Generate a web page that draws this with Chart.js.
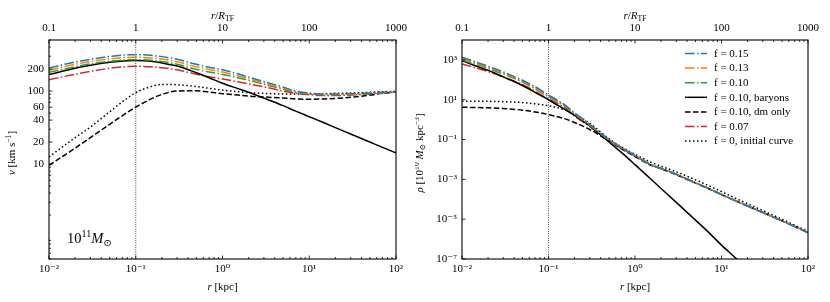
<!DOCTYPE html>
<html>
<head>
<meta charset="utf-8">
<script src="https://cdn.jsdelivr.net/npm/chart.js@4.4.1/dist/chart.umd.min.js"></script>
<style>
  body { margin: 0; background: #fff; }
  #wrap { position: relative; width: 830px; height: 302px; }
  canvas { position: absolute; top: 0; }
</style>
</head>
<body>
<div id="wrap">
  <canvas id="velChart" width="415" height="302" style="left:0"></canvas>
  <canvas id="rhoChart" width="415" height="302" style="left:415px"></canvas>
</div>
<script>
// radius grid (kpc), shared by every curve
const radii = [0.01, 0.02, 0.03, 0.05, 0.08, 0.1, 0.15, 0.2, 0.3, 0.5, 0.7, 1, 1.5, 2, 3, 5, 7, 10, 15, 20, 30, 50, 70, 100];

const labels = ['f = 0.15', 'f = 0.13', 'f = 0.10', 'f = 0.10, baryons', 'f = 0.10, dm only', 'f = 0.07', 'f = 0, initial curve'];

// rotation curves v [km/s]
const vF015 = [207, 250, 272, 298, 314, 315, 308, 296, 272, 232, 212, 195, 172, 155, 135, 113, 100, 94, 91, 91, 92, 94, 96, 97];
const vF013 = [193, 232, 253, 276, 289, 290, 284, 274, 252, 215, 197, 182, 162, 147, 129, 109, 98, 93, 90, 90, 91, 93, 95, 97];
const vF010 = [180, 215, 235, 256, 268, 269, 263, 253, 233, 198, 182, 169, 152, 140, 124, 106, 96, 92, 89, 89, 90, 92, 95, 97];
const vBaryons = [168, 205, 225, 248, 260, 262, 256, 242, 220, 178, 152, 128, 108, 96, 80, 63, 53, 44.5, 36.5, 31.5, 25.8, 20, 16.9, 14.2];
const vDmOnly = [9.6, 16.5, 23, 35, 51, 60, 78, 90, 100, 101, 97, 92, 88, 85, 83, 80, 78, 77, 78, 79, 82, 88, 93, 97];
const vF007 = [143, 170, 186, 205, 216, 218, 215, 208, 195, 170, 157, 146, 134, 125, 114, 100, 93, 89, 87, 87, 88, 91, 94, 96];
const vInitial = [12.5, 23, 32, 52, 80, 95, 115, 123, 122, 115, 109, 103, 98, 95, 93, 91, 91, 91, 92, 93, 94, 96, 98, 99];

// density profiles rho [1e10 Msun / kpc^3]
const rhoF015 = [1350, 480, 250, 95, 32, 17, 6.0, 2.2, 0.58, 0.1, 0.04, 0.016, 0.0058, 0.0036, 0.0018, 6.8e-4, 3.6e-4, 1.7e-4, 7.8e-5, 4.6e-5, 2.15e-5, 8.2e-6, 4.3e-6, 2.1e-6];
const rhoF013 = [1150, 420, 220, 85, 28, 15.5, 5.6, 2.05, 0.55, 0.098, 0.039, 0.0157, 0.0057, 0.0036, 0.0018, 6.8e-4, 3.6e-4, 1.7e-4, 7.8e-5, 4.6e-5, 2.15e-5, 8.2e-6, 4.3e-6, 2.1e-6];
const rhoF010 = [1000, 370, 195, 76, 25, 14, 5.2, 1.9, 0.52, 0.095, 0.038, 0.0155, 0.0056, 0.0035, 0.0018, 6.8e-4, 3.6e-4, 1.7e-4, 7.8e-5, 4.6e-5, 2.15e-5, 8.2e-6, 4.3e-6, 2.1e-6];
const rhoBaryons = [900, 300, 140, 52, 17, 10, 3.5, 1.65, 0.48, 0.075, 0.022, 0.0055, 1.1e-3, 3.5e-4, 7e-5, 9e-6, 2.3e-6, 5e-7, 1e-7, 3e-8, 6e-9, 8e-10, 2e-10, 5e-11];
const rhoDmOnly = [4.2, 3.9, 3.6, 3.0, 2.2, 1.8, 1.15, 0.72, 0.32, 0.085, 0.034, 0.014, 0.0053, 0.0034, 0.0017, 6.5e-4, 3.5e-4, 1.7e-4, 7.8e-5, 4.6e-5, 2.15e-5, 8.2e-6, 4.3e-6, 2.1e-6];
const rhoF007 = [630, 260, 140, 58, 19, 11, 4.3, 1.5, 0.45, 0.085, 0.035, 0.0148, 0.0055, 0.0035, 0.0018, 6.8e-4, 3.6e-4, 1.75e-4, 8e-5, 4.8e-5, 2.2e-5, 8.5e-6, 4.4e-6, 2.2e-6];
const rhoInitial = [8.5, 8.3, 8.0, 7.2, 5.8, 5.0, 3.2, 1.9, 0.65, 0.11, 0.042, 0.018, 0.0075, 0.0046, 0.0024, 9.5e-4, 5e-4, 2.4e-4, 1.05e-4, 6e-5, 2.7e-5, 1e-5, 5e-6, 2.4e-6];

// tick labels
const vTickLabels = [10, 20, 40, 60, 100, 200];
const rhoTickExps = [-7, -5, -3, -1, 1, 3];
const topTickLabels = ['0.1', '1', '10', '100', '1000'];
const markR = 0.1; // R_TF in kpc

const SERIF = '"Liberation Serif", "DejaVu Serif", serif';
const FS = 11;
const colors = ['#1f77b4', '#ff7f0e', '#2ca02c', '#000', '#000', '#d62728', '#000'];
const dashes = [[9.6, 2.4, 1.5, 2.4], [9.6, 2.4, 1.5, 2.4], [9.6, 2.4, 1.5, 2.4], [], [5.55, 2.4], [9.6, 2.4, 1.5, 2.4], [1.5, 2.5]];

const SUP = { '-': '⁻', '0': '⁰', '1': '¹', '2': '²', '3': '³', '4': '⁴', '5': '⁵', '6': '⁶', '7': '⁷', '8': '⁸', '9': '⁹' };
const pow10Label = e => '10' + String(e).split('').map(c => SUP[c]).join('');
const isDecade = v => Math.abs(Math.log10(v) - Math.round(Math.log10(v))) < 1e-6;

function logTicks(min, max, subs) {
  const out = [];
  for (let e = Math.floor(Math.log10(min)); e <= Math.ceil(Math.log10(max)); e++) {
    subs.forEach(s => {
      const v = s * Math.pow(10, e);
      if (v >= min * 0.999 && v <= max * 1.001) out.push(v);
    });
  }
  return out;
}

function makeDatasets(cols) {
  return cols.map((vals, i) => ({
    label: labels[i],
    data: radii.map((r, j) => ({ x: r, y: vals[j] })),
    borderColor: colors[i],
    borderDash: dashes[i],
    borderWidth: 1.5,
    pointRadius: 0,
    fill: false,
    cubicInterpolationMode: 'monotone'
  }));
}

function logAxis(pos, min, max, tickVals, labelFn, size, pad) {
  return {
    type: 'logarithmic',
    position: pos,
    min: min,
    max: max,
    grid: { display: false, drawTicks: false },
    border: { display: false },
    afterBuildTicks: s => { s.ticks = tickVals.map(v => ({ value: v })); },
    afterFit: s => {
      if (pos === 'left') s.width = size; else s.height = size;
    },
    ticks: {
      autoSkip: false, maxRotation: 0, minRotation: 0, padding: pad, color: '#000',
      font: { family: SERIF, size: FS },
      callback: v => labelFn(v)
    }
  };
}

// text with super/subscripts; parts = [[text, kind]]
function rich(ctx, parts, x, y, size, align) {
  const fontFor = k => (k === 'it' ? 'italic ' : '') + ((k === 'sup' || k === 'sub') ? size * 0.7 : size) + 'px ' + SERIF;
  let w = 0;
  parts.forEach(([t, k]) => { ctx.font = fontFor(k); w += ctx.measureText(t).width; });
  let cx = align === 'left' ? x : x - w / 2;
  ctx.textAlign = 'left';
  ctx.textBaseline = 'alphabetic';
  ctx.fillStyle = '#000';
  parts.forEach(([t, k]) => {
    ctx.font = fontFor(k);
    const dy = k === 'sup' ? -size * 0.4 : (k === 'sub' ? size * 0.22 : 0);
    ctx.fillText(t, cx, y + dy);
    cx += ctx.measureText(t).width;
  });
}

function drawTickMarks(ctx, scale, side, area, isMajor) {
  scale.ticks.forEach(t => {
    const p = scale.getPixelForValue(t.value);
    const len = isMajor(t.value) ? 3.5 : 2;
    ctx.beginPath();
    if (side === 'bottom') { ctx.moveTo(p, area.bottom); ctx.lineTo(p, area.bottom - len); }
    if (side === 'top') { ctx.moveTo(p, area.top); ctx.lineTo(p, area.top + len); }
    if (side === 'left') { ctx.moveTo(area.left, p); ctx.lineTo(area.left + len, p); }
    ctx.stroke();
  });
}

const decor = {
  id: 'decor',
  beforeDatasetsDraw(chart) {
    const { ctx, chartArea: a, scales } = chart;
    const xm = scales.x.getPixelForValue(markR);
    ctx.save();
    ctx.strokeStyle = '#000';
    ctx.lineWidth = 0.7;
    ctx.setLineDash([1, 1.3]);
    ctx.beginPath(); ctx.moveTo(xm, a.top); ctx.lineTo(xm, a.bottom); ctx.stroke();
    ctx.restore();
  },
  afterDraw(chart, args, opts) {
    const { ctx, chartArea: a, scales } = chart;
    ctx.save();
    ctx.strokeStyle = '#000';
    ctx.lineWidth = 0.8;
    drawTickMarks(ctx, scales.x, 'bottom', a, isDecade);
    drawTickMarks(ctx, scales.x2, 'top', a, isDecade);
    drawTickMarks(ctx, scales.y, 'left', a, opts.yMajor);
    ctx.lineWidth = 1.1;
    ctx.strokeRect(a.left, a.top, a.right - a.left, a.bottom - a.top);

    const cx = (a.left + a.right) / 2;
    rich(ctx, [['r', 'it'], [' [kpc]', '']], cx, 289.5, FS);
    rich(ctx, [['r', 'it'], ['/', ''], ['R', 'it'], ['TF', 'sub']], cx, 18.5, FS);
    ctx.save();
    ctx.translate(opts.yTitleX, (a.top + a.bottom) / 2 + 3.5);
    ctx.rotate(-Math.PI / 2);
    rich(ctx, opts.yTitle, 0, 0, FS);
    ctx.restore();

    if (opts.note) rich(ctx, opts.note, 67, 243, 14.5, 'left');

    if (opts.legend) {
      chart.data.datasets.forEach((ds, i) => {
        const y = 53.5 + i * 14.6;
        ctx.strokeStyle = ds.borderColor;
        ctx.lineWidth = 1.5;
        ctx.setLineDash(ds.borderDash);
        ctx.beginPath(); ctx.moveTo(270, y); ctx.lineTo(292, y); ctx.stroke();
        ctx.setLineDash([]);
        ctx.fillStyle = '#000';
        ctx.font = FS + 'px ' + SERIF;
        ctx.textAlign = 'left';
        ctx.textBaseline = 'middle';
        ctx.fillText(ds.label, 299, y + 0.5);
      });
    }
    ctx.restore();
  }
};

const xTicks = logTicks(0.01, 100, [1, 2, 3, 4, 5, 6, 7, 8, 9]);
const topTicks = logTicks(0.1, 1000, [1, 2, 3, 4, 5, 6, 7, 8, 9]);
const vTicks = logTicks(0.5, 500, [2, 3, 4, 5, 6, 7, 8, 9]).concat([10, 100]).sort((p, q) => p - q);
const rhoTicks = rhoTickExps.map(e => Math.pow(10, e));

function baseScales(yAxis) {
  return {
    x: logAxis('bottom', 0.01, 100, xTicks, v => isDecade(v) ? pow10Label(Math.round(Math.log10(v))) : '', 43, 4),
    x2: logAxis('top', 0.1, 1000, topTicks, v => isDecade(v) ? topTickLabels[Math.round(Math.log10(v)) + 1] : '', 40, 5),
    y: yAxis
  };
}

new Chart(document.getElementById('velChart'), {
  type: 'line',
  data: { datasets: makeDatasets([vF015, vF013, vF010, vBaryons, vDmOnly, vF007, vInitial]) },
  options: {
    responsive: false,
    animation: false,
    layout: { padding: { right: 19 } },
    plugins: {
      legend: { display: false },
      tooltip: { enabled: false },
      decor: {
        yMajor: v => vTickLabels.some(t => Math.abs(t - v) < 1e-6),
        yTitleX: 15,
        yTitle: [['v', 'it'], [' [km s', ''], ['−1', 'sup'], [']', '']],
        note: [['10', ''], ['11', 'sup'], ['M', 'it'], ['⊙', 'sub']]
      }
    },
    scales: baseScales(logAxis('left', 0.5, 500, vTicks,
      v => vTickLabels.some(t => Math.abs(t - v) < 1e-6) ? String(Math.round(v)) : '', 49, 5))
  },
  plugins: [decor]
});

new Chart(document.getElementById('rhoChart'), {
  type: 'line',
  data: { datasets: makeDatasets([rhoF015, rhoF013, rhoF010, rhoBaryons, rhoDmOnly, rhoF007, rhoInitial]) },
  options: {
    responsive: false,
    animation: false,
    layout: { padding: { right: 22 } },
    plugins: {
      legend: { display: false },
      tooltip: { enabled: false },
      decor: {
        yMajor: v => true,
        yTitleX: 8,
        yTitle: [['ρ', 'it'], [' [10', ''], ['10', 'sup'], [' ', ''], ['M', 'it'], ['⊙', 'sub'], [' kpc', ''], ['−3', 'sup'], [']', '']],
        legend: true
      }
    },
    scales: baseScales(logAxis('left', 1e-7, 1e4, rhoTicks, v => pow10Label(Math.round(Math.log10(v))), 47, 5))
  },
  plugins: [decor]
});
</script>
</body>
</html>
